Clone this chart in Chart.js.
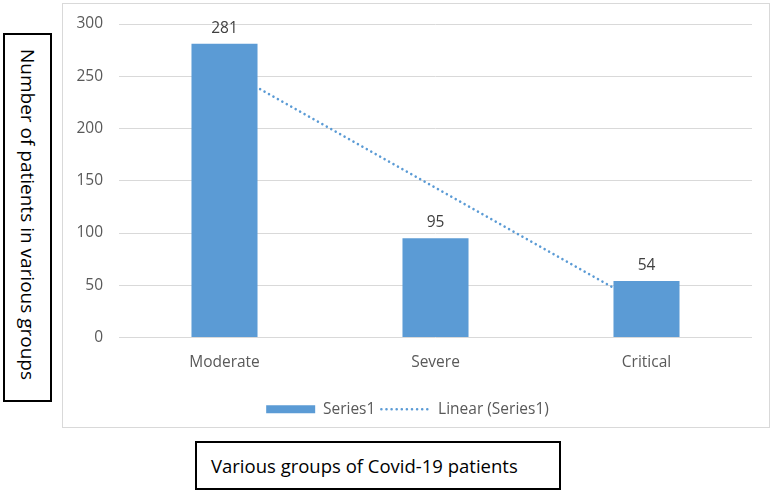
<!DOCTYPE html>
<html>
<head>
<meta charset="utf-8">
<script src="https://cdn.jsdelivr.net/npm/chart.js@4"></script>
<style>
  body { margin: 0; width: 777px; height: 492px; position: relative; background: #fff; overflow: hidden; font-family: "Open Sans", sans-serif; }
  #frame { position: absolute; left: 62px; top: 3px; width: 706px; height: 423px; border: 1px solid #d9d9d9; }
  #ybox { position: absolute; left: 3px; top: 33px; width: 49px; height: 369px; box-sizing: border-box; border: 2px solid #000; }
  #ybox span { position: absolute; left: 0; right: 0; top: 14px; writing-mode: vertical-rl; font-size: 19px; color: #000; line-height: 45px; white-space: nowrap; }
  #xbox { position: absolute; left: 195px; top: 441px; width: 366px; height: 49px; box-sizing: border-box; border: 2px solid #000; font-size: 18.5px; color: #000; line-height: 45px; padding-left: 14px; white-space: nowrap; }
</style>
</head>
<body>
<div id="ybox"><span>Number of patients in various groups</span></div>
<div id="frame"><canvas id="myChart" width="706" height="423"></canvas></div>
<div id="xbox">Various groups of Covid-19 patients</div>
<script>
const categories = ['Moderate', 'Severe', 'Critical'];
const patients = [281, 95, 54];
// least-squares trend of the three bars, as Excel draws it
const trend = [256.83, 143.33, 29.83];
const yTicks = [0, 50, 100, 150, 200, 250, 300];

const blue = '#5b9bd5';
const font = { family: '"Open Sans", sans-serif', size: 15.5 };

const valueLabels = {
  id: 'valueLabels',
  afterDatasetsDraw(chart) {
    const c = chart.ctx;
    const meta = chart.getDatasetMeta(0);
    c.save();
    c.font = '15.5px "Open Sans", sans-serif';
    c.fillStyle = '#404040';
    c.textAlign = 'center';
    c.textBaseline = 'bottom';
    meta.data.forEach((bar, i) => {
      c.fillText(patients[i], bar.x, bar.y - 8);
    });
    c.restore();
  }
};

const ctx = document.getElementById('myChart').getContext('2d');
const myChart = new Chart(ctx, {
  type: 'bar',
  data: {
    labels: categories,
    datasets: [{
      label: 'Series1',
      data: patients,
      backgroundColor: blue,
      borderWidth: 0,
      barPercentage: 0.313,
      categoryPercentage: 1,
      pointStyle: 'rect',
      order: 1
    }, {
      type: 'line',
      label: 'Linear (Series1)',
      data: trend,
      borderColor: blue,
      backgroundColor: blue,
      borderWidth: 2.5,
      borderDash: [0.1, 5],
      borderCapStyle: 'round',
      pointRadius: 0,
      pointStyle: 'line',
      fill: false,
      order: 2
    }]
  },
  options: {
    responsive: false,
    animation: false,
    layout: { padding: { top: 20, right: 17, bottom: 0, left: 0 } },
    plugins: {
      tooltip: { enabled: false },
      legend: {
        position: 'bottom',
        labels: {
          usePointStyle: true,
          pointStyleWidth: 49,
          boxHeight: 8,
          padding: 6,
          color: '#595959',
          font: font,
          generateLabels(chart) {
            const items = Chart.defaults.plugins.legend.labels.generateLabels(chart);
            items.forEach(it => {
              if (it.datasetIndex === 1) {
                it.lineDash = [0.1, 5];
                it.lineCap = 'round';
                it.lineWidth = 2.5;
                it.strokeStyle = blue;
              } else {
                it.lineWidth = 0;
              }
            });
            return items;
          }
        }
      }
    },
    scales: {
      x: {
        grid: { display: false },
        border: { display: false },
        ticks: { color: '#595959', padding: 8, font: font },
        afterFit(scale) { scale.height = 58; }
      },
      y: {
        min: 0,
        max: 300,
        afterBuildTicks(scale) { scale.ticks = yTicks.map(v => ({ value: v })); },
        // tick marks kept invisible so the label gap does not pad the plot top
        grid: { color: '#d9d9d9', lineWidth: 1, drawTicks: true, tickLength: 16, tickColor: 'rgba(0,0,0,0)' },
        border: { display: false },
        ticks: { color: '#595959', padding: 0, font: font },
        afterFit(scale) { scale.width = 56; }
      }
    }
  },
  plugins: [valueLabels]
});
</script>
</body>
</html>
